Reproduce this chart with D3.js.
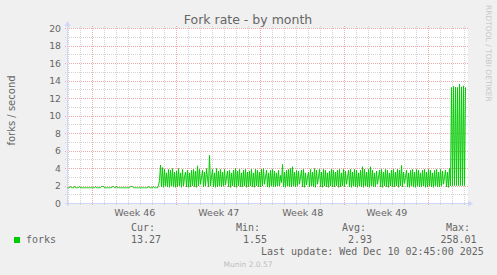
<!DOCTYPE html>
<html><head><meta charset="utf-8">
<script src="https://cdn.jsdelivr.net/npm/d3@7"></script>
<style>html,body{margin:0;padding:0;background:#f0f0f0;}svg{display:block;}</style>
</head><body><svg id="c" width="497" height="275"></svg>
<script>
const title = "Fork rate - by month";
const yLabel = "forks / second";
const seriesName = "forks";
// 2-hour averages, oldest first
const quietRate = [
1.8,1.8,1.8,1.95,1.8,1.8,1.8,1.95,1.8,1.8,
1.8,1.8,1.95,1.8,1.8,1.8,1.8,1.8,1.8,1.8,
1.8,1.8,1.8,1.8,1.8,1.8,1.8,1.8,1.95,1.8,
1.8,1.8,1.8,1.8,1.95,1.95,1.95,1.8,1.8,1.8,
1.8,1.8,1.8,1.8,1.8,1.95,1.95,1.8,1.8,1.95,
1.8,1.8,1.8,1.8,1.8,1.8,1.8,1.8,1.8,1.8,
1.8,1.8,1.8,1.95,1.95,1.95,1.8,1.8,1.8,1.8,
1.8,1.8,1.8,1.8,1.8,1.8,1.8,1.8,1.8,1.8,
1.8,1.95,1.8,1.8,1.8,1.8,1.95,1.8,1.8,1.8,
1.8,2.1,2.6];
const busyRate = [
4.4,1.9,4.1,1.85,3.9,2.0,3.5,1.9,3.9,1.85,
3.8,2.0,4.0,1.9,3.6,1.85,3.7,1.9,4.0,2.0,
3.5,1.85,3.9,2.0,3.0,3.6,1.9,3.8,1.85,3.5,
1.9,3.8,2.0,3.9,1.9,3.7,1.85,4.3,2.0,3.9,
2.2,3.0,3.8,1.9,3.6,2.0,4.0,2.9,1.9,5.5,
2.0,3.0,3.9,1.9,3.5,1.85,4.0,1.9,3.7,2.0,
3.9,1.9,3.6,2.0,3.9,2.1,3.0,3.7,1.9,3.8,
1.85,3.5,2.0,3.8,1.9,4.0,1.85,3.7,2.0,3.9,
1.9,3.5,1.9,3.8,2.0,3.9,1.85,3.6,1.9,3.7,
2.0,3.9,1.9,3.5,1.85,3.9,2.0,3.8,1.9,3.6,
1.9,3.9,2.0,4.0,2.2,3.0,3.8,1.9,3.5,1.85,
3.8,2.0,3.9,1.9,3.7,1.9,3.5,2.0,3.8,2.0,
3.2,2.4,4.45,1.9,3.6,1.85,3.8,2.0,3.9,1.9,
4.0,1.9,4.2,2.0,3.6,1.9,3.8,2.0,3.7,2.2,
3.0,3.8,1.9,3.9,1.85,3.5,2.1,3.0,3.6,1.9,
3.9,2.0,3.6,1.9,4.0,1.85,3.8,2.2,3.0,3.9,
1.9,3.6,1.85,3.9,2.0,3.8,1.9,3.5,1.85,3.7,
2.0,3.9,1.9,3.8,1.9,3.6,2.0,3.8,1.85,3.9,
1.9,3.5,2.0,3.9,1.9,3.7,2.2,3.0,3.8,1.9,
3.9,1.85,3.6,2.0,3.9,1.9,3.8,1.85,3.5,2.0,
3.8,1.9,4.2,1.85,3.9,2.0,3.6,1.9,3.9,1.85,
4.2,2.0,3.8,1.9,3.5,1.9,3.7,2.2,3.0,3.8,
1.9,3.9,1.85,3.6,2.0,3.9,1.9,3.8,1.85,3.5,
2.0,3.8,1.9,3.9,1.9,3.6,2.0,3.9,1.85,3.8,
2.0,4.35,1.9,3.6,2.3,3.0,3.8,1.9,3.5,1.85,
3.8,2.0,3.9,1.9,3.6,1.85,3.9,2.0,3.8,1.9,
3.5,1.9,3.8,2.0,3.9,1.85,3.6,1.9,3.9,2.0,
3.8,1.9,3.5,1.85,3.8,2.0,3.9,1.9,3.6,1.9,
3.9,2.0,3.7,2.2,3.0,3.8,1.9,3.6,1.85,4.0,
2.0];
const burstRate = [13.26,2.05,13.37,2.05,13.29,2.05,13.26,2.05,13.63,2.05,13.33,2.05,13.45,2.05,13.27];

const sampleStart = Date.UTC(2025, 10, 7, 21, 24);
const sampleStepHours = 2;
const windowHours = 800;
const weekStarts = ["2025-11-10", "2025-11-17", "2025-11-24", "2025-12-01"];
const weekLabels = ["Week 46", "Week 47", "Week 48", "Week 49"];
const yTicks = [0, 2, 4, 6, 8, 10, 12, 14, 16, 18, 20];
const legendHeads = ["Cur:", "Min:", "Avg:", "Max:"];
const legendValues = ["13.27", "1.55", "2.93", "258.01"];
const lastUpdate = "Last update: Wed Dec 10 02:45:00 2025";
const footer = "Munin 2.0.57";
const watermark = "RRDTOOL / TOBI OETIKER";

const values = quietRate.concat(busyRate, burstRate);
const HOUR = 3600e3;
const data = values.map((v, i) => ({t: new Date(sampleStart + i * sampleStepHours * HOUR), v}));

const svg = d3.select("#c");
const L = 67, R = 467, T = 28, B = 203;
const x = d3.scaleUtc().domain([new Date(sampleStart), new Date(sampleStart + windowHours * HOUR)]).range([L + 0.5, R + 0.5]);
const y = d3.scaleLinear().domain([0, 20]).range([B + 0.5, T + 0.5]);

svg.append("rect").attr("width", 497).attr("height", 275).attr("fill", "#f0f0f0");
svg.append("rect").attr("x", L).attr("y", T).attr("width", R - L + 1).attr("height", B - T + 1).attr("fill", "#ffffff");

const gridMinor = "#d2d2d2", gridMajor = "#f0aaaa";
const g = svg.append("g").attr("shape-rendering", "crispEdges");
// horizontal grid
d3.range(1, 21).forEach(v => {
  const major = v % 2 === 0;
  g.append("line").attr("x1", L - 2).attr("x2", R + 2).attr("y1", y(v)).attr("y2", y(v))
    .attr("stroke", major ? gridMajor : gridMinor).attr("stroke-dasharray", "1,1");
});
// vertical grid
const days = d3.utcDay.range(x.domain()[0], x.domain()[1]);
days.forEach(d => {
  const major = d.getUTCDay() === 1;
  const px = Math.floor(x(d)) + 0.5;
  g.append("line").attr("x1", px).attr("x2", px).attr("y1", T - 2).attr("y2", B + 3)
    .attr("stroke", major ? gridMajor : gridMinor).attr("stroke-dasharray", "1,1");
});

// data line
svg.append("path").datum(data)
  .attr("d", d3.line().x(d => x(d.t)).y(d => y(d.v)))
  .attr("fill", "none").attr("stroke", "#00cc00").attr("stroke-width", 1);

// axes
const axisCol = "#cfd6f8";
g.append("line").attr("x1", L - 2).attr("x2", R + 4).attr("y1", B + 0.5).attr("y2", B + 0.5).attr("stroke", axisCol);
g.append("line").attr("x1", L + 0.5).attr("x2", L + 0.5).attr("y1", B + 3).attr("y2", T - 4).attr("stroke", axisCol);
svg.append("path").attr("d", `M${R + 1},${B - 2.5}L${R + 6},${B + 0.5}L${R + 1},${B + 3.5}Z`).attr("fill", axisCol);
svg.append("path").attr("d", `M${L - 2.5},${T - 2}L${L + 0.5},${T - 7}L${L + 3.5},${T - 2}Z`).attr("fill", axisCol);

const font = "'DejaVu Sans', sans-serif", mono = "'DejaVu Sans Mono', monospace", fc = "#666666";
// y tick labels
svg.append("g").selectAll("text").data(yTicks).join("text")
  .attr("x", L - 6).attr("y", d => y(d) + 3.2).attr("text-anchor", "end")
  .attr("font-family", font).attr("font-size", 9.3).attr("fill", fc).text(d => d);
// week labels
svg.append("g").selectAll("text").data(weekStarts).join("text")
  .attr("x", d => x(new Date(Date.parse(d + "T00:00:00Z") + 3.5 * 24 * HOUR)))
  .attr("y", 216).attr("text-anchor", "middle")
  .attr("font-family", font).attr("font-size", 9.5).attr("fill", fc).text((d, i) => weekLabels[i]);

svg.append("text").attr("x", 248).attr("y", 24).attr("text-anchor", "middle")
  .attr("font-family", font).attr("font-size", 12.5).attr("fill", fc).text(title);
svg.append("text").attr("transform", "translate(14.5,110.5) rotate(-90)").attr("text-anchor", "middle")
  .attr("font-family", font).attr("font-size", 10).attr("fill", fc).text(yLabel);
svg.append("text").attr("transform", "translate(485.5,5) rotate(90)").attr("text-anchor", "start")
  .attr("font-family", font).attr("font-size", 7.5).attr("fill", "#c8c8c8").text(watermark);

// legend
svg.append("rect").attr("x", 14).attr("y", 237).attr("width", 6).attr("height", 6).attr("fill", "#00cc00");
svg.append("text").attr("x", 26).attr("y", 243).attr("font-family", mono).attr("font-size", 10).attr("fill", fc).text(seriesName);
const headX = [131, 236, 342, 446], valX = [131, 243, 348, 440.5];
legendHeads.forEach((h, i) => {
  svg.append("text").attr("x", headX[i]).attr("y", 231).attr("font-family", mono).attr("font-size", 10).attr("fill", fc).text(h);
  svg.append("text").attr("x", valX[i]).attr("y", 243).attr("font-family", mono).attr("font-size", 10).attr("fill", fc).text(legendValues[i]);
});
svg.append("text").attr("x", 261).attr("y", 255).attr("font-family", mono).attr("font-size", 10).attr("fill", fc).text(lastUpdate);
svg.append("text").attr("x", 248).attr("y", 267).attr("text-anchor", "middle")
  .attr("font-family", font).attr("font-size", 7.5).attr("fill", "#bdbdbd").text(footer);
</script></body></html>
